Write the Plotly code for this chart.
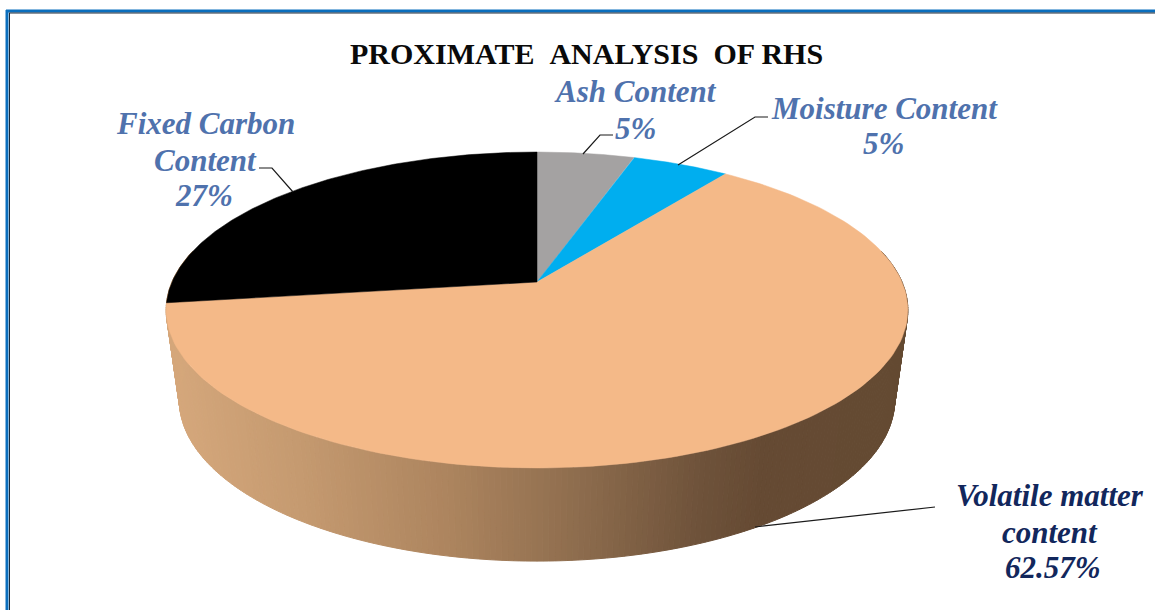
import numpy as np
import plotly.graph_objects as go

# Proximate analysis values, in percent
categories = ["Ash Content", "Moisture Content", "Volatile matter content", "Fixed Carbon Content"]
values = [5, 5, 62.57, 27]
slice_colors = ["#a4a2a2", "#00aeef", "#f4b988", "#000000"]
title_text = "PROXIMATE\u00a0\u00a0ANALYSIS\u00a0\u00a0OF RHS"
value_labels = ["5%", "5%", "62.57%", "27%"]

W, H = 1155, 610
PERSPECTIVE = 0.1772


def project(angle, apex_y, half_x, half_y):
    """Perspective view of a point on a tilted disc; angle runs clockwise from the far edge."""
    sx, cy = np.sin(angle), np.cos(angle)
    w = 1 + PERSPECTIVE * cy
    return 537 + half_x * sx / w, apex_y - half_y * cy / w


def top_rim(angle):
    return project(angle, 282, 365, 153)


def base_rim(angle):
    return project(angle, 371.5, 352, 156)


# Colour of the rim wall as a function of screen x
wall_x = [165, 300, 450, 560, 700, 760, 910]
wall_r = [214, 197, 172, 146, 110, 101, 100]
wall_g = [168, 154, 132, 112, 82, 74, 74]
wall_b = [124, 112, 94, 80, 58, 51, 50]


def wall_color(x):
    r = np.interp(x, wall_x, wall_r)
    g = np.interp(x, wall_x, wall_g)
    b = np.interp(x, wall_x, wall_b)
    return f"rgb({r:.0f},{g:.0f},{b:.0f})"


fig = go.Figure()

# Rim wall of the disc, built from narrow vertical bands for the shading
edges = np.radians(np.linspace(78, 282, 261))
for a0, a1 in zip(edges[:-1], edges[1:]):
    t = np.array([a0, a1])
    tx, ty = top_rim(t)
    bx, by = base_rim(t)
    color = wall_color((tx.mean() + bx.mean()) / 2)
    fig.add_trace(go.Scatter(
        x=[tx[0], tx[1], bx[1], bx[0], tx[0]],
        y=[ty[0], ty[1], by[1], by[0], ty[0]],
        mode="lines", fill="toself", fillcolor=color,
        line=dict(color=color, width=1), hoverinfo="skip", showlegend=False,
    ))

# Top face: one wedge for each category, swept clockwise from the far edge
fractions = np.array(values) / sum(values)
bounds = np.concatenate([[0], np.cumsum(fractions)]) * 2 * np.pi
for name, color, start, stop in zip(categories, slice_colors, bounds[:-1], bounds[1:]):
    sweep = np.linspace(start, stop, 160)
    rx, ry = top_rim(sweep)
    fig.add_trace(go.Scatter(
        x=np.concatenate([[537], rx, [537]]),
        y=np.concatenate([[282], ry, [282]]),
        mode="lines", fill="toself", fillcolor=color,
        line=dict(color=color, width=0.5), name=name, showlegend=False,
    ))

# Leader lines from the labels to the slices
leaders = [
    ([613, 600, 583], [135, 135, 154]),
    ([768, 755, 678], [117, 117, 165]),
    ([935, 755], [507, 527]),
    ([259, 272, 293], [168, 168, 192]),
]
for lx, ly in leaders:
    fig.add_trace(go.Scatter(
        x=lx, y=ly, mode="lines", line=dict(color="#1a1a1a", width=1.2),
        hoverinfo="skip", showlegend=False,
    ))

LABEL_BLUE = "#4f72ad"
LABEL_NAVY = "#12275c"
label_lines = [
    ("Ash Content", 635, 91, LABEL_BLUE),
    (value_labels[0], 635, 128, LABEL_BLUE),
    ("Moisture Content", 884, 108, LABEL_BLUE),
    (value_labels[1], 883, 143, LABEL_BLUE),
    ("Volatile matter", 1050, 495, LABEL_NAVY),
    ("content", 1050, 532, LABEL_NAVY),
    (value_labels[2], 1053, 567, LABEL_NAVY),
    ("Fixed Carbon", 205, 123, LABEL_BLUE),
    ("Content", 205, 160, LABEL_BLUE),
    (value_labels[3], 204, 195, LABEL_BLUE),
]
annotations = [
    dict(x=x, y=y, text=f"<b><i>{text}</i></b>", showarrow=False, xanchor="center",
         yanchor="middle", font=dict(family="Liberation Serif", size=31, color=color))
    for text, x, y, color in label_lines
]
annotations.append(dict(
    x=586, y=53, text=f"<b>{title_text}</b>", showarrow=False, xanchor="center", yanchor="middle",
    font=dict(family="Liberation Serif", size=30, color="#0a0a0a"),
))

# Frame along the top and left edges
frame = [
    dict(type="line", x0=6, x1=W, y0=11, y1=11, line=dict(color="#0a6ebd", width=3)),
    dict(type="line", x0=9, x1=W, y0=13, y1=13, line=dict(color="#1d2b3a", width=1)),
    dict(type="line", x0=7, x1=7, y0=10, y1=H, line=dict(color="#0a6ebd", width=3)),
    dict(type="line", x0=9.5, x1=9.5, y0=13, y1=H, line=dict(color="#1d2b3a", width=1)),
]

fig.update_layout(
    width=W, height=H, margin=dict(l=0, r=0, t=0, b=0),
    paper_bgcolor="white", plot_bgcolor="white", showlegend=False,
    xaxis=dict(range=[0, W], visible=False, fixedrange=True),
    yaxis=dict(range=[H, 0], visible=False, fixedrange=True),
    annotations=annotations, shapes=frame,
)

fig.write_html("out.html", config=dict(displayModeBar=False))
